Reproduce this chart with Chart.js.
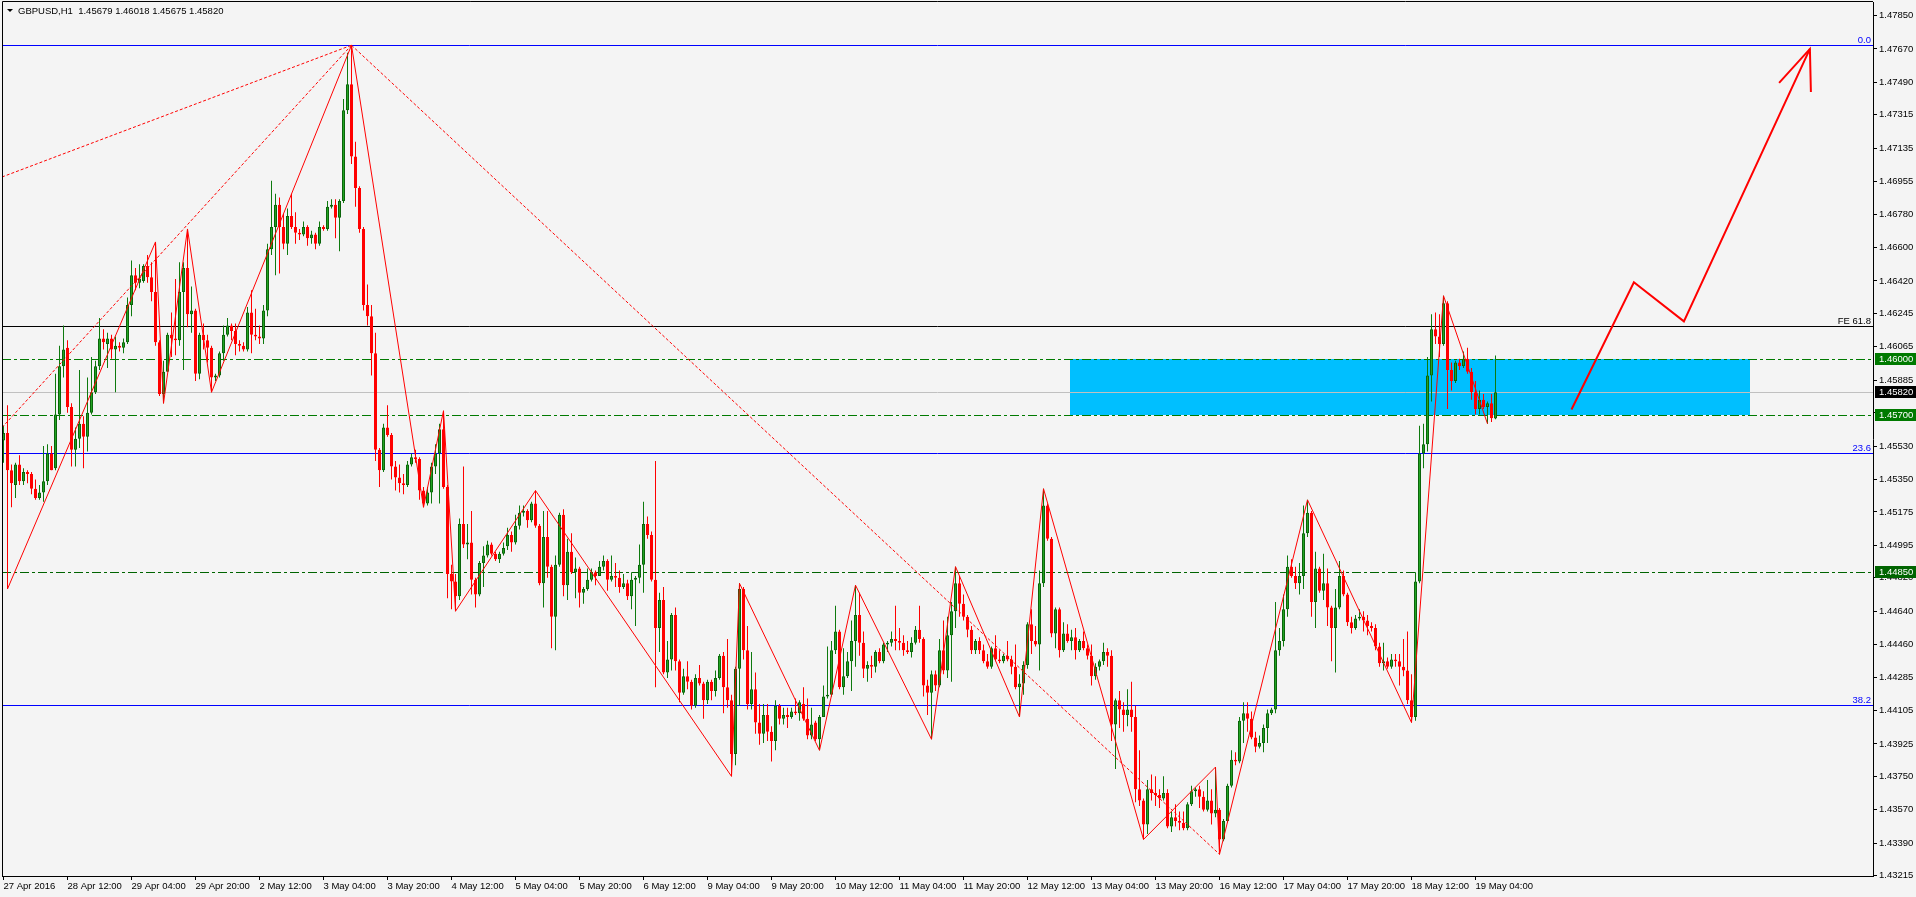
<!DOCTYPE html>
<html>
<head>
<meta charset="utf-8">
<title>GBPUSD,H1</title>
<script src="https://cdn.jsdelivr.net/npm/chart.js@4.4.1/dist/chart.umd.min.js"></script>
<style>
    html, body { margin: 0; padding: 0; background: #f4f4f4; overflow: hidden; }
    #wrap { width: 1916px; height: 897px; }
</style>
</head>
<body>
<div id="wrap"><canvas id="gbpusd-h1" width="1916" height="897"></canvas></div>

<script>(function() { "use strict";

    // H1 candles, 27 Apr 2016 20:00 .. 19 May 2016 09:00 (one value per bar)
    var opens = [
        1.4556,1.4560,1.4540,1.4532,1.4543,1.4534,1.4539,1.4538,1.4530,1.4525, // 0
        1.4528,1.4534,1.4549,1.4541,1.4570,1.4596,1.4606,1.4574,1.4551,1.4557, // 10
        1.4565,1.4558,1.4571,1.4582,1.4596,1.4611,1.4608,1.4611,1.4605,1.4607, // 20
        1.4606,1.4609,1.4629,1.4645,1.4641,1.4642,1.4650,1.4644,1.4636,1.4609, // 30
        1.4581,1.4593,1.4613,1.4611,1.4610,1.4636,1.4649,1.4624,1.4626,1.4592, // 40
        1.4613,1.4610,1.4606,1.4590,1.4591,1.4603,1.4613,1.4618,1.4615,1.4608, // 50
        1.4607,1.4605,1.4625,1.4613,1.4612,1.4611,1.4626,1.4659,1.4671,1.4683, // 60
        1.4671,1.4662,1.4677,1.4671,1.4668,1.4667,1.4671,1.4665,1.4667,1.4662, // 70
        1.4671,1.4670,1.4682,1.4683,1.4676,1.4685,1.4734,1.4748,1.4709,1.4692, // 80
        1.4670,1.4629,1.4623,1.4603,1.4551,1.4540,1.4563,1.4559,1.4542,1.4536, // 90
        1.4533,1.4532,1.4543,1.4547,1.4546,1.4529,1.4522,1.4528,1.4542,1.4549, // 100
        1.4562,1.4531,1.4484,1.4480,1.4472,1.4511,1.4500,1.4501,1.4481,1.4473, // 110
        1.4490,1.4494,1.4500,1.4495,1.4492,1.4495,1.4499,1.4505,1.4501,1.4510, // 120
        1.4517,1.4518,1.4513,1.4522,1.4510,1.4479,1.4504,1.4488,1.4461,1.4489, // 130
        1.4516,1.4478,1.4496,1.4485,1.4487,1.4474,1.4476,1.4481,1.4485,1.4483, // 140
        1.4488,1.4491,1.4481,1.4483,1.4482,1.4477,1.4479,1.4472,1.4481,1.4482, // 150
        1.4489,1.4511,1.4505,1.4481,1.4455,1.4470,1.4431,1.4438,1.4462,1.4437, // 160
        1.4420,1.4429,1.4426,1.4413,1.4428,1.4425,1.4416,1.4426,1.4421,1.4428, // 170
        1.4440,1.4423,1.4416,1.4387,1.4433,1.4476,1.4443,1.4414,1.4422,1.4404, // 180
        1.4398,1.4408,1.4399,1.4394,1.4413,1.4406,1.4408,1.4407,1.4410,1.4409, // 190
        1.4414,1.4406,1.4397,1.4404,1.4395,1.4407,1.4418,1.4419,1.4443,1.4453, // 200
        1.4423,1.4429,1.4437,1.4448,1.4462,1.4447,1.4433,1.4435,1.4434,1.4442, // 210
        1.4437,1.4446,1.4447,1.4449,1.4448,1.4447,1.4443,1.4442,1.4447,1.4454, // 220
        1.4449,1.4424,1.4420,1.4430,1.4424,1.4443,1.4432,1.4451,1.4464,1.4479, // 230
        1.4468,1.4461,1.4454,1.4443,1.4448,1.4443,1.4437,1.4434,1.4444,1.4438, // 240
        1.4437,1.4440,1.4438,1.4434,1.4423,1.4425,1.4435,1.4457,1.4448,1.4446, // 250
        1.4479,1.4521,1.4503,1.4452,1.4465,1.4443,1.4452,1.4448,1.4450,1.4443, // 260
        1.4448,1.4444,1.4440,1.4429,1.4434,1.4437,1.4442,1.4440,1.4403,1.4416, // 270
        1.4411,1.4408,1.4411,1.4407,1.4368,1.4362,1.4349,1.4368,1.4366,1.4365, // 280
        1.4363,1.4366,1.4348,1.4353,1.4351,1.4350,1.4347,1.4360,1.4367,1.4368, // 290
        1.4364,1.4357,1.4362,1.4355,1.4357,1.4341,1.4351,1.4370,1.4384,1.4383, // 300
        1.4405,1.4409,1.4406,1.4396,1.4391,1.4393,1.4401,1.4409,1.4411,1.4443, // 310
        1.4448,1.4465,1.4488,1.4483,1.4479,1.4483,1.4506,1.4517,1.4469,1.4487, // 320
        1.4475,1.4479,1.4466,1.4455,1.4466,1.4483,1.4473,1.4458,1.4455,1.4460, // 330
        1.4461,1.4459,1.4456,1.4455,1.4445,1.4436,1.4437,1.4434,1.4438,1.4437, // 340
        1.4434,1.4432,1.4416,1.4407,1.4480,1.4549,1.4554,1.4591,1.4616,1.4612, // 350
        1.4608,1.4630,1.4594,1.4588,1.4598,1.4596,1.4600,1.4593,1.4582,1.4573, // 360
        1.4578,1.4574,1.4576,1.45679                                            // 370
    ];
    var highs = [
        1.4564,1.4575,1.4543,1.4544,1.4548,1.4541,1.4540,1.4539,1.4535,1.4532,
        1.4553,1.4554,1.4553,1.4592,1.4607,1.4618,1.4610,1.4576,1.4563,1.4594,
        1.4569,1.4590,1.4601,1.4599,1.4622,1.4616,1.4614,1.4613,1.4612,1.4609,
        1.4611,1.4633,1.4653,1.4649,1.4651,1.4651,1.4656,1.4652,1.4663,1.4610,
        1.4599,1.4614,1.4625,1.4643,1.4652,1.4652,1.4670,1.4639,1.4627,1.4614,
        1.4619,1.4613,1.4607,1.4592,1.4604,1.4618,1.4622,1.4619,1.4619,1.4610,
        1.4609,1.4628,1.4637,1.4627,1.4618,1.4629,1.4662,1.4696,1.4689,1.4687,
        1.4678,1.4681,1.4689,1.4679,1.4670,1.4674,1.4672,1.4669,1.4668,1.4674,
        1.4672,1.4685,1.4686,1.4686,1.4686,1.4740,1.4765,1.4769,1.4717,1.4693,
        1.4671,1.4640,1.4629,1.4614,1.4552,1.4565,1.4575,1.4560,1.4545,1.4543,
        1.4538,1.4545,1.4549,1.4551,1.4547,1.4531,1.4531,1.4544,1.4554,1.4565,
        1.4572,1.4532,1.4489,1.4484,1.4514,1.4542,1.4511,1.4518,1.4482,1.4491,
        1.4499,1.4502,1.4501,1.4496,1.4496,1.4501,1.4509,1.4507,1.4516,1.4521,
        1.4521,1.4519,1.4523,1.4529,1.4511,1.4518,1.4518,1.4489,1.4494,1.4517,
        1.4519,1.4503,1.4506,1.4493,1.4488,1.4477,1.4487,1.4487,1.4486,1.4491,
        1.4494,1.4492,1.4494,1.4490,1.4486,1.4484,1.4481,1.4485,1.4483,1.4500,
        1.4523,1.4515,1.4507,1.4545,1.4474,1.4477,1.4448,1.4463,1.4466,1.4438,
        1.4433,1.4437,1.4427,1.4430,1.4435,1.4426,1.4427,1.4427,1.4432,1.4441,
        1.4442,1.4449,1.4419,1.4434,1.4479,1.4477,1.4456,1.4442,1.4431,1.4414,
        1.4414,1.4414,1.4402,1.4416,1.4414,1.4412,1.4412,1.4412,1.4417,1.4416,
        1.4423,1.4417,1.4412,1.4405,1.4408,1.4424,1.4445,1.4448,1.4467,1.4454,
        1.4444,1.4442,1.4459,1.4478,1.4474,1.4453,1.4437,1.4440,1.4443,1.4444,
        1.4447,1.4448,1.4453,1.4467,1.4455,1.4451,1.4448,1.4450,1.4456,1.4467,
        1.4450,1.4427,1.4432,1.4432,1.4449,1.4459,1.4461,1.4469,1.4488,1.4483,
        1.4473,1.4462,1.4456,1.4449,1.4450,1.4446,1.4441,1.4445,1.4451,1.4443,
        1.4441,1.4448,1.4440,1.4446,1.4430,1.4437,1.4458,1.4465,1.4456,1.4486,
        1.4530,1.4522,1.4504,1.4466,1.4466,1.4458,1.4457,1.4454,1.4455,1.4449,
        1.4453,1.4446,1.4446,1.4436,1.4438,1.4447,1.4444,1.4443,1.4417,1.4421,
        1.4415,1.4422,1.4426,1.4413,1.4389,1.4363,1.4373,1.4376,1.4375,1.4368,
        1.4375,1.4368,1.4356,1.4360,1.4356,1.4356,1.4361,1.4370,1.4369,1.4370,
        1.4367,1.4373,1.4368,1.4380,1.4358,1.4352,1.4371,1.4389,1.4388,1.4407,
        1.4415,1.4415,1.4410,1.4399,1.4397,1.4403,1.4411,1.4412,1.4469,1.4455,
        1.4473,1.4494,1.4492,1.4488,1.4490,1.4521,1.4524,1.4518,1.4496,1.4488,
        1.4495,1.4487,1.4467,1.4476,1.4491,1.4486,1.4474,1.4461,1.4462,1.4465,
        1.4464,1.4462,1.4458,1.4457,1.4447,1.4447,1.4439,1.4441,1.4441,1.4441,
        1.4449,1.4453,1.4430,1.4485,1.4564,1.4565,1.4601,1.4624,1.4625,1.4624,
        1.4634,1.4631,1.4598,1.4599,1.4600,1.4604,1.4606,1.4595,1.4588,1.4583,
        1.4581,1.4577,1.4581,1.46018
    ];
    var lows = [
        1.4544,1.4476,1.4520,1.4525,1.4532,1.4532,1.4533,1.4527,1.4524,1.4524,
        1.4523,1.4532,1.4540,1.4540,1.4567,1.4590,1.4571,1.4542,1.4542,1.4552,
        1.4541,1.4550,1.4570,1.4581,1.4594,1.4605,1.4595,1.4600,1.4582,1.4604,
        1.4603,1.4608,1.4623,1.4637,1.4638,1.4641,1.4641,1.4631,1.4607,1.4580,
        1.4576,1.4593,1.4601,1.4602,1.4607,1.4594,1.4617,1.4614,1.4588,1.4589,
        1.4605,1.4598,1.4582,1.4588,1.4590,1.4599,1.4612,1.4610,1.4602,1.4604,
        1.4604,1.4604,1.4603,1.4610,1.4608,1.4608,1.4623,1.4656,1.4645,1.4646,
        1.4659,1.4656,1.4670,1.4662,1.4664,1.4666,1.4661,1.4662,1.4659,1.4661,
        1.4669,1.4669,1.4681,1.4665,1.4658,1.4684,1.4732,1.4705,1.4682,1.4668,
        1.4626,1.4618,1.4591,1.4545,1.4531,1.4539,1.4558,1.4535,1.4529,1.4528,
        1.4527,1.4531,1.4542,1.4544,1.4524,1.4520,1.4521,1.4522,1.4538,1.4522,
        1.4530,1.4471,1.4465,1.4464,1.4470,1.4498,1.4492,1.4473,1.4466,1.4472,
        1.4477,1.4493,1.4494,1.4491,1.4490,1.4494,1.4497,1.4496,1.4500,1.4508,
        1.4515,1.4509,1.4512,1.4509,1.4478,1.4466,1.4482,1.4444,1.4443,1.4488,
        1.4472,1.4470,1.4484,1.4471,1.4466,1.4468,1.4475,1.4480,1.4478,1.4483,
        1.4486,1.4475,1.4480,1.4477,1.4474,1.4476,1.4470,1.4465,1.4456,1.4479,
        1.4474,1.4503,1.4480,1.4423,1.4442,1.4430,1.4428,1.4432,1.4432,1.4415,
        1.4419,1.4422,1.4411,1.4412,1.4424,1.4406,1.4414,1.4416,1.4418,1.4427,
        1.4409,1.4412,1.4375,1.4381,1.4413,1.4438,1.4411,1.4411,1.4398,1.4392,
        1.4393,1.4394,1.4383,1.4389,1.4403,1.4403,1.4401,1.4406,1.4408,1.4405,
        1.4405,1.4395,1.4395,1.4394,1.4389,1.4407,1.4417,1.4418,1.4441,1.4422,
        1.4419,1.4428,1.4421,1.4434,1.4440,1.4428,1.4426,1.4428,1.4431,1.4436,
        1.4436,1.4442,1.4445,1.4443,1.4443,1.4440,1.4441,1.4439,1.4446,1.4447,
        1.4418,1.4408,1.4395,1.4421,1.4423,1.4430,1.4428,1.4426,1.4455,1.4461,
        1.4459,1.4450,1.4441,1.4441,1.4441,1.4436,1.4433,1.4433,1.4437,1.4436,
        1.4436,1.4437,1.4430,1.4422,1.4407,1.4419,1.4433,1.4441,1.4445,1.4432,
        1.4477,1.4502,1.4450,1.4444,1.4439,1.4442,1.4447,1.4443,1.4438,1.4442,
        1.4443,1.4438,1.4424,1.4427,1.4432,1.4435,1.4434,1.4394,1.4379,1.4401,
        1.4399,1.4402,1.4399,1.4361,1.4359,1.4341,1.4344,1.4362,1.4359,1.4358,
        1.4362,1.4347,1.4345,1.4348,1.4346,1.4346,1.4346,1.4359,1.4364,1.4358,
        1.4356,1.4356,1.4349,1.4353,1.4333,1.4340,1.4350,1.4369,1.4381,1.4382,
        1.4393,1.4399,1.4395,1.4388,1.4390,1.4388,1.4393,1.4408,1.4409,1.4440,
        1.4445,1.4461,1.4482,1.4476,1.4473,1.4476,1.4504,1.4461,1.4455,1.4474,
        1.4470,1.4456,1.4437,1.4431,1.4465,1.4472,1.4456,1.4452,1.4454,1.4459,
        1.4453,1.4451,1.4453,1.4443,1.4434,1.4432,1.4433,1.4433,1.4434,1.4424,
        1.4429,1.4414,1.4404,1.4405,1.4479,1.4541,1.4550,1.4577,1.4608,1.4601,
        1.4607,1.4573,1.4583,1.4587,1.4594,1.4595,1.4592,1.4578,1.4570,1.4570,
        1.4573,1.4565,1.4566,1.45675
    ];
    var closes = [
        1.4560,1.4540,1.4533,1.4543,1.4534,1.4539,1.4538,1.4530,1.4525,1.4528,
        1.4534,1.4549,1.4540,1.4570,1.4596,1.4605,1.4574,1.4551,1.4557,1.4565,
        1.4558,1.4571,1.4582,1.4596,1.4611,1.4609,1.4611,1.4605,1.4607,1.4606,
        1.4609,1.4629,1.4645,1.4641,1.4643,1.4650,1.4644,1.4636,1.4609,1.4581,
        1.4593,1.4613,1.4611,1.4610,1.4636,1.4649,1.4624,1.4626,1.4592,1.4613,
        1.4610,1.4606,1.4590,1.4591,1.4603,1.4613,1.4618,1.4615,1.4608,1.4607,
        1.4605,1.4625,1.4613,1.4612,1.4611,1.4626,1.4659,1.4671,1.4683,1.4671,
        1.4662,1.4677,1.4671,1.4668,1.4667,1.4671,1.4665,1.4667,1.4662,1.4671,
        1.4670,1.4682,1.4683,1.4676,1.4685,1.4734,1.4748,1.4709,1.4692,1.4670,
        1.4629,1.4623,1.4603,1.4551,1.4540,1.4563,1.4559,1.4542,1.4536,1.4533,
        1.4532,1.4543,1.4547,1.4546,1.4529,1.4522,1.4528,1.4542,1.4549,1.4562,
        1.4531,1.4484,1.4480,1.4472,1.4511,1.4500,1.4501,1.4481,1.4473,1.4490,
        1.4494,1.4500,1.4495,1.4492,1.4495,1.4498,1.4505,1.4501,1.4510,1.4517,
        1.4518,1.4513,1.4522,1.4510,1.4479,1.4504,1.4488,1.4461,1.4489,1.4516,
        1.4478,1.4496,1.4485,1.4487,1.4474,1.4476,1.4481,1.4485,1.4483,1.4488,
        1.4491,1.4481,1.4483,1.4482,1.4477,1.4479,1.4472,1.4481,1.4482,1.4489,
        1.4511,1.4505,1.4481,1.4455,1.4470,1.4431,1.4438,1.4462,1.4437,1.4420,
        1.4429,1.4426,1.4413,1.4428,1.4425,1.4416,1.4426,1.4421,1.4428,1.4440,
        1.4423,1.4416,1.4387,1.4433,1.4476,1.4443,1.4414,1.4422,1.4404,1.4398,
        1.4408,1.4399,1.4394,1.4413,1.4406,1.4408,1.4407,1.4410,1.4409,1.4415,
        1.4406,1.4397,1.4403,1.4395,1.4407,1.4418,1.4419,1.4443,1.4453,1.4423,
        1.4429,1.4437,1.4448,1.4462,1.4447,1.4433,1.4435,1.4434,1.4442,1.4437,
        1.4446,1.4447,1.4449,1.4448,1.4447,1.4443,1.4442,1.4447,1.4454,1.4449,
        1.4424,1.4420,1.4430,1.4424,1.4443,1.4432,1.4451,1.4464,1.4479,1.4468,
        1.4461,1.4454,1.4443,1.4448,1.4443,1.4437,1.4434,1.4444,1.4438,1.4437,
        1.4440,1.4438,1.4434,1.4423,1.4425,1.4435,1.4457,1.4448,1.4446,1.4479,
        1.4521,1.4503,1.4452,1.4465,1.4443,1.4452,1.4448,1.4450,1.4443,1.4448,
        1.4444,1.4440,1.4429,1.4434,1.4437,1.4442,1.4440,1.4403,1.4416,1.4411,
        1.4408,1.4411,1.4407,1.4368,1.4362,1.4349,1.4368,1.4366,1.4365,1.4363,
        1.4366,1.4348,1.4353,1.4351,1.4350,1.4347,1.4360,1.4367,1.4368,1.4364,
        1.4357,1.4362,1.4355,1.4357,1.4341,1.4351,1.4370,1.4384,1.4383,1.4405,
        1.4409,1.4406,1.4396,1.4391,1.4393,1.4401,1.4409,1.4411,1.4443,1.4448,
        1.4465,1.4488,1.4483,1.4479,1.4483,1.4506,1.4517,1.4469,1.4487,1.4475,
        1.4479,1.4466,1.4455,1.4466,1.4483,1.4473,1.4458,1.4455,1.4460,1.4461,
        1.4459,1.4456,1.4455,1.4445,1.4436,1.4437,1.4434,1.4438,1.4437,1.4434,
        1.4432,1.4416,1.4407,1.4480,1.4549,1.4554,1.4591,1.4616,1.4612,1.4608,
        1.4630,1.4594,1.4588,1.4598,1.4596,1.4600,1.4593,1.4582,1.4573,1.4578,
        1.4574,1.4576,1.4568,1.45820
    ];

    // time axis: a label every 16 bars
    var xTickBars = [0, 16, 32, 48, 64, 80, 96, 112, 128, 144, 160, 176,
                     192, 208, 224, 240, 256, 272, 288, 304, 320, 336, 352, 368];
    var xTickLabels = ['27 Apr 2016', '28 Apr 12:00', '29 Apr 04:00', '29 Apr 20:00', '2 May 12:00',
                       '3 May 04:00', '3 May 20:00', '4 May 12:00', '5 May 04:00', '5 May 20:00',
                       '6 May 12:00', '9 May 04:00', '9 May 20:00', '10 May 12:00', '11 May 04:00',
                       '11 May 20:00', '12 May 12:00', '13 May 04:00', '13 May 20:00', '16 May 12:00',
                       '17 May 04:00', '17 May 20:00', '18 May 12:00', '19 May 04:00'];
    var yTickValues = [1.47850, 1.47670, 1.47490, 1.47315, 1.47135, 1.46955, 1.46780, 1.46600, 1.46420,
                       1.46245, 1.46065, 1.45885, 1.45710, 1.45530, 1.45350, 1.45175, 1.44995, 1.44820,
                       1.44640, 1.44460, 1.44285, 1.44105, 1.43925, 1.43750, 1.43570, 1.43390, 1.43215];

    // zigzag through the swing points (bar index, price)
    var zigzagBars   = [1, 38, 40, 46, 52, 87, 105, 110, 113, 133, 182, 184, 204,
                        213, 232, 238, 254, 260, 285, 303, 304, 326, 352, 360, 371];
    var zigzagPrices = [1.4476, 1.4663, 1.4576, 1.4670, 1.4582, 1.4769, 1.4520, 1.4572, 1.4464,
                        1.4529, 1.4375, 1.4479, 1.4389, 1.4478, 1.4395, 1.4488, 1.4407, 1.4530,
                        1.4341, 1.4380, 1.4333, 1.4524, 1.4404, 1.4634, 1.4565];

    // dotted trend lines
    var trendUpperBars = [-0.375, 87], trendUpperPrices = [1.4698, 1.4769];
    var trendLowerBars = [-0.375, 87], trendLowerPrices = [1.4563, 1.4769];
    var trendDownBars  = [87, 304],    trendDownPrices  = [1.4769, 1.4333];

    // projected path and its arrow head
    var pathBars   = [392, 407.6, 420.1, 451.6];
    var pathPrices = [1.45727, 1.46413, 1.46202, 1.47670];
    var headBars   = [443.9, 451.6, 451.85];
    var headPrices = [1.47487, 1.47670, 1.47438];

    // levels
    var fibPrices = [1.47690, 1.45491, 1.44134];
    var fibNames  = ['0.0', '23.6', '38.2'];
    var fePrice   = 1.46177;
    var fePriceName = 'FE 61.8';
    var levelPrices = [1.46000, 1.45700, 1.44850];
    var lastPrice   = 1.45820;
    var zoneBars    = [266.5, 436.5];
    var zonePrices  = [1.45700, 1.46000];

    var symbol = 'GBPUSD,H1';

    // ---- look ----
    var RED = '#ff0000', UP_FILL = '#22a322', UP_EDGE = '#0a640a', UP_WICK = '#0e7a0e';
    var FONT = { family: '"Liberation Sans", Arial, sans-serif', size: 9.5 };
    var FONT_CSS = '9.5px "Liberation Sans", Arial, sans-serif';
    var X_MIN = -0.375, X_MAX = 467.375;
    var Y_MIN = 1.43213, Y_MAX = 1.47923;

    var n = opens.length;
    var idx = opens.map(function(v, i) { return i; });
    var isUp = idx.map(function(i) { return closes[i] >= opens[i]; });

    function pts(bars, prices) {
        return bars.map(function(b, k) { return { x: b, y: prices[k] }; });
    }
    function lineSet(data, color, width, dash, order) {
        return {
            type: 'line', data: data, borderColor: color, borderWidth: width,
            borderDash: dash || [], pointRadius: 0, fill: false, tension: 0, order: order
        };
    }
    function px(v) { return Math.round(v) + 0.5; }

    var levels = {
        id: 'levels',
        beforeDatasetsDraw: function(chart) {
            var ctx = chart.ctx, a = chart.chartArea, xs = chart.scales.x, ys = chart.scales.y;
            ctx.save();
            ctx.beginPath();
            ctx.rect(a.left, a.top, a.right - a.left, a.bottom - a.top);
            ctx.clip();

            // zone
            var zx0 = Math.round(xs.getPixelForValue(zoneBars[0])), zx1 = Math.round(xs.getPixelForValue(zoneBars[1]));
            var zy0 = Math.round(ys.getPixelForValue(zonePrices[1])), zy1 = Math.round(ys.getPixelForValue(zonePrices[0]));
            ctx.fillStyle = '#00bfff';
            ctx.fillRect(zx0, zy0, zx1 - zx0, zy1 - zy0);

            function hline(price, color, dash) {
                var y = px(ys.getPixelForValue(price));
                ctx.beginPath();
                ctx.setLineDash(dash || []);
                ctx.strokeStyle = color;
                ctx.lineWidth = 1;
                ctx.moveTo(a.left, y);
                ctx.lineTo(a.right, y);
                ctx.stroke();
            }
            hline(lastPrice, '#c0c0c0');
            fibPrices.forEach(function(p) { hline(p, '#0000ff'); });
            hline(fePrice, '#000000');
            levelPrices.forEach(function(p, k) { hline(p, k === 2 ? '#006400' : '#007a00', [9, 3, 3, 3]); });
            ctx.restore();
        },
        afterDraw: function(chart) {
            var ctx = chart.ctx, a = chart.chartArea, ys = chart.scales.y;
            ctx.save();
            ctx.font = FONT_CSS;

            // frame
            ctx.strokeStyle = '#000';
            ctx.lineWidth = 1;
            ctx.beginPath();
            ctx.moveTo(px(a.left), a.bottom);
            ctx.lineTo(px(a.left), px(a.top - 1));
            ctx.lineTo(a.right, px(a.top - 1));
            ctx.stroke();

            // level captions
            ctx.textAlign = 'right';
            ctx.textBaseline = 'alphabetic';
            ctx.fillStyle = '#0000ff';
            fibPrices.forEach(function(p, k) {
                ctx.fillText(fibNames[k], a.right - 2, Math.round(ys.getPixelForValue(p)) - 2);
            });
            ctx.fillStyle = '#000';
            ctx.fillText(fePriceName, a.right - 2, Math.round(ys.getPixelForValue(fePrice)) - 2);

            // price boxes on the axis
            ctx.textAlign = 'left';
            ctx.textBaseline = 'middle';
            function box(price, color) {
                var y = Math.round(ys.getPixelForValue(price));
                ctx.fillStyle = color;
                ctx.fillRect(a.right + 2, y - 6, chart.width - a.right - 2, 12);
                ctx.fillStyle = '#fff';
                ctx.fillText(price.toFixed(5), a.right + 6, y + 0.5);
            }
            levelPrices.forEach(function(p, k) { box(p, k === 2 ? '#006400' : '#007a00'); });
            box(lastPrice, '#000');

            // header
            ctx.fillStyle = '#000';
            ctx.beginPath();
            ctx.moveTo(7, 9); ctx.lineTo(13, 9); ctx.lineTo(10, 12); ctx.closePath();
            ctx.fill();
            ctx.textBaseline = 'alphabetic';
            var last = n - 1;
            var head = symbol + '  ' + [opens[last], highs[last], lows[last], closes[last]]
                .map(function(v) { return v.toFixed(5); }).join(' ');
            ctx.fillText(head, 18, 14);
            ctx.restore();
        }
    };

    var chart = new Chart(document.getElementById('gbpusd-h1').getContext('2d'), {
        type: 'bar',
        data: {
            datasets: [
                {
                    label: 'wicks', type: 'bar',
                    data: idx.map(function(i) { return { x: i, y: [lows[i], highs[i]] }; }),
                    backgroundColor: isUp.map(function(u) { return u ? UP_WICK : RED; }),
                    borderWidth: 0, barThickness: 1, grouped: false, inflateAmount: 0, order: 4
                },
                {
                    label: 'bodies', type: 'bar',
                    data: idx.map(function(i) { return { x: i, y: [opens[i], closes[i]] }; }),
                    backgroundColor: isUp.map(function(u) { return u ? UP_FILL : RED; }),
                    borderColor: isUp.map(function(u) { return u ? UP_EDGE : RED; }),
                    borderWidth: 1, borderSkipped: false, barThickness: 3, minBarLength: 1,
                    grouped: false, inflateAmount: 0, order: 3
                },
                lineSet(pts(trendUpperBars, trendUpperPrices), RED, 1, [3, 2], 2),
                lineSet(pts(trendLowerBars, trendLowerPrices), RED, 1, [3, 2], 2),
                lineSet(pts(trendDownBars, trendDownPrices), RED, 1, [3, 2], 2),
                lineSet(pts(zigzagBars, zigzagPrices), RED, 1, null, 1),
                lineSet(pts(pathBars, pathPrices), RED, 2, null, 0),
                lineSet(pts(headBars, headPrices), RED, 2, null, 0)
            ]
        },
        options: {
            responsive: false,
            animation: false,
            devicePixelRatio: 1,
            events: [],
            layout: { padding: { left: 2, top: 2, right: 0, bottom: 0 } },
            plugins: { legend: { display: false }, tooltip: { enabled: false } },
            scales: {
                x: {
                    type: 'linear', min: X_MIN, max: X_MAX, offset: false,
                    afterFit: function(s) { s.height = 21; s.paddingLeft = 0; s.paddingRight = 0; },
                    afterBuildTicks: function(s) { s.ticks = xTickBars.map(function(v) { return { value: v }; }); },
                    grid: { drawOnChartArea: false, drawTicks: true, tickLength: 4, color: '#000', offset: false },
                    border: { display: true, color: '#000' },
                    ticks: {
                        autoSkip: false, maxRotation: 0, minRotation: 0, align: 'start', padding: 1,
                        color: '#000', font: FONT,
                        callback: function(v, i) { return xTickLabels[i]; }
                    }
                },
                y: {
                    type: 'linear', position: 'right', min: Y_MIN, max: Y_MAX,
                    afterFit: function(s) { s.width = 43; s.paddingTop = 0; s.paddingBottom = 0; },
                    afterBuildTicks: function(s) { s.ticks = yTickValues.map(function(v) { return { value: v }; }); },
                    grid: { drawOnChartArea: false, drawTicks: true, tickLength: 4, color: '#000' },
                    border: { display: true, color: '#000' },
                    ticks: {
                        autoSkip: false, padding: 2, color: '#000', font: FONT,
                        callback: function(v) { return v.toFixed(5); }
                    }
                }
            }
        },
        plugins: [levels]
    });

})();</script>
</body>
</html>
